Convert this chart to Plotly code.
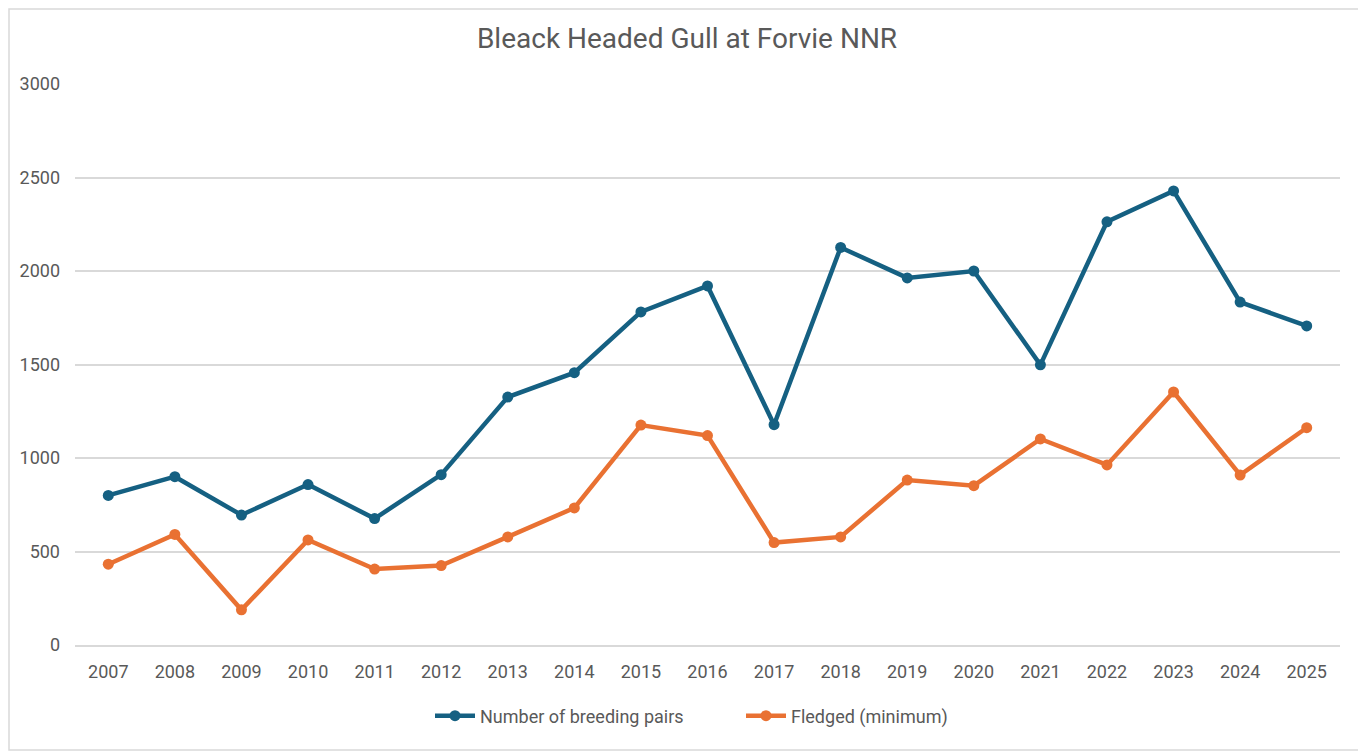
import plotly.graph_objects as go

# Data
years = [str(y) for y in range(2007, 2026)]
breeding_pairs = [800, 900, 695, 858, 676, 911, 1326, 1456, 1781, 1920,
                  1178, 2126, 1963, 2000, 1498, 2263, 2428, 1834, 1706]
fledged = [432, 591, 188, 562, 406, 425, 578, 733, 1176, 1120,
           548, 578, 882, 852, 1102, 963, 1353, 909, 1162]

BLUE = "#156082"
ORANGE = "#E97132"
GREY = "#595959"
FONT = "Roboto"

fig = go.Figure()
fig.add_trace(go.Scatter(x=years, y=breeding_pairs, mode="lines+markers",
                         name="Number of breeding pairs",
                         line=dict(color=BLUE, width=4.5),
                         marker=dict(color=BLUE, size=11)))
fig.add_trace(go.Scatter(x=years, y=fledged, mode="lines+markers",
                         name="Fledged (minimum)",
                         line=dict(color=ORANGE, width=4.5),
                         marker=dict(color=ORANGE, size=11)))

# page body has an 8px margin, so the figure is shrunk to fit the window
W, H = 1358, 743
ml, mr, mt, mb = 67, 26, 76, 106
pw, ph = W - ml - mr, H - mt - mb

fig.update_layout(
    width=W, height=H, autosize=False,
    margin=dict(l=ml, r=mr, t=mt, b=mb),
    paper_bgcolor="white", plot_bgcolor="white",
    font=dict(family=FONT, color=GREY, size=18),
    title=dict(text="Bleack Headed Gull at Forvie NNR", x=0.5, xanchor="center",
               y=1 - 30 / H, yanchor="middle",
               font=dict(family=FONT, size=28, color=GREY)),
    showlegend=True,
    legend=dict(orientation="h", x=(430 - 75) / pw, xanchor="left",
                y=-(716 - 645) / ph, yanchor="middle",
                font=dict(size=18, color=GREY), entrywidth=256,
                itemwidth=40, tracegroupgap=0),
    xaxis=dict(type="category", range=[-0.5, 18.5], showgrid=False,
               showline=True, linecolor="#D9D9D9", linewidth=1.5,
               ticks="", ticklabelstandoff=10, tickfont=dict(size=18, color=GREY)),
    yaxis=dict(range=[0, 3000], tickvals=[0, 500, 1000, 1500, 2000, 2500, 3000],
               showgrid=True, gridcolor="#D9D9D9", gridwidth=1.5,
               zeroline=False, showline=False, ticks="",
               ticklabelstandoff=14, tickfont=dict(size=18, color=GREY)),
    shapes=[dict(type="rect", xref="paper", yref="paper",
                 x0=-(ml - 1) / pw, x1=1 + (mr - 1) / pw,
                 y0=-(mb - 1) / ph, y1=1 + (mt - 1) / ph,
                 line=dict(color="#D9D9D9", width=1.5), layer="below")],
)

fig.write_html("out.html")
